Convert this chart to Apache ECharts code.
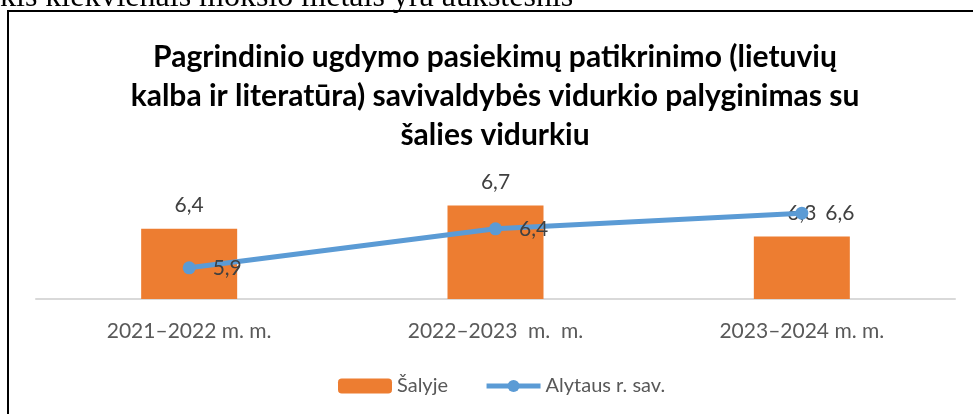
<!DOCTYPE html>
<html>
<head>
<meta charset="utf-8">
<script src="https://cdn.jsdelivr.net/npm/echarts@6/dist/echarts.min.js"></script>
<style>
  html, body { margin: 0; padding: 0; background: #fff; }
  #chart { width: 973px; height: 414px; }
</style>
</head>
<body>
<div id="chart"></div>
<script>
// duomenys
let categories = ['2021–2022 m. m.', '2022–2023  m.  m.', '2023–2024 m. m.']
let salyje = [6.4, 6.7, 6.3]
let alytaus = [5.9, 6.4, 6.6]

let comma = function(p) {
    return String(p.value).replace('.', ',')
}

let setChart = function(ele, options) {
    if (typeof echarts === 'object') {
        let myChart = echarts.init(ele)
        myChart.setOption(options)
        return myChart
    }
}

let options = {
    animation: false,
    backgroundColor: '#fff',
    title: {
        text: 'Pagrindinio ugdymo pasiekimų patikrinimo (lietuvių\nkalba ir literatūra) savivaldybės vidurkio palyginimas su\nšalies vidurkiu',
        left: 495,
        textAlign: 'center',
        top: 38,
        padding: 0,
        textStyle: {
            fontFamily: 'Lato',
            fontWeight: 'bold',
            fontSize: 30,
            lineHeight: 39,
            color: '#000'
        }
    },
    graphic: [
        {
            type: 'text',
            style: {
                x: 0,
                y: 14,
                verticalAlign: 'bottom',
                text: 'kis kiekvienais mokslo metais yra aukštesnis',
                font: '32px "Liberation Serif"',
                fill: '#000'
            }
        },
        {
            type: 'polyline',
            shape: { points: [[8, 414], [8, 11], [973, 11]] },
            style: { stroke: '#000', lineWidth: 2, fill: null }
        }
    ],
    grid: { left: 36, right: 18, top: 182, bottom: 115 },
    legend: {
        left: 333,
        top: 371,
        itemWidth: 54,
        itemHeight: 15,
        itemGap: 36,
        textStyle: { fontFamily: 'Lato', fontSize: 20, color: '#595959' },
        data: [
            { name: 'Šalyje' },
            { name: 'Alytaus r. sav.', lineStyle: { width: 5 } }
        ]
    },
    xAxis: {
        type: 'category',
        data: categories,
        axisLine: { lineStyle: { color: '#d9d9d9', width: 2 } },
        axisTick: { show: false },
        axisLabel: { fontFamily: 'Lato', fontSize: 21, color: '#595959', margin: 22 }
    },
    yAxis: {
        type: 'value',
        min: 5.5,
        max: 7,
        show: false,
        splitLine: { show: false }
    },
    series: [
        {
            name: 'Šalyje',
            type: 'bar',
            data: salyje,
            barWidth: 96,
            itemStyle: { color: '#ed7d31' },
            label: {
                show: true,
                position: 'top',
                distance: 13,
                formatter: comma,
                fontFamily: 'Lato',
                fontSize: 21,
                color: '#404040'
            }
        },
        {
            name: 'Alytaus r. sav.',
            type: 'line',
            data: alytaus,
            symbol: 'circle',
            symbolSize: 13,
            lineStyle: { color: '#5b9bd5', width: 5 },
            itemStyle: { color: '#5b9bd5' },
            label: {
                show: true,
                position: 'right',
                distance: 17,
                formatter: comma,
                fontFamily: 'Lato',
                fontSize: 21,
                color: '#404040'
            }
        }
    ]
}

setChart(document.getElementById('chart'), options)
</script>
</body>
</html>
